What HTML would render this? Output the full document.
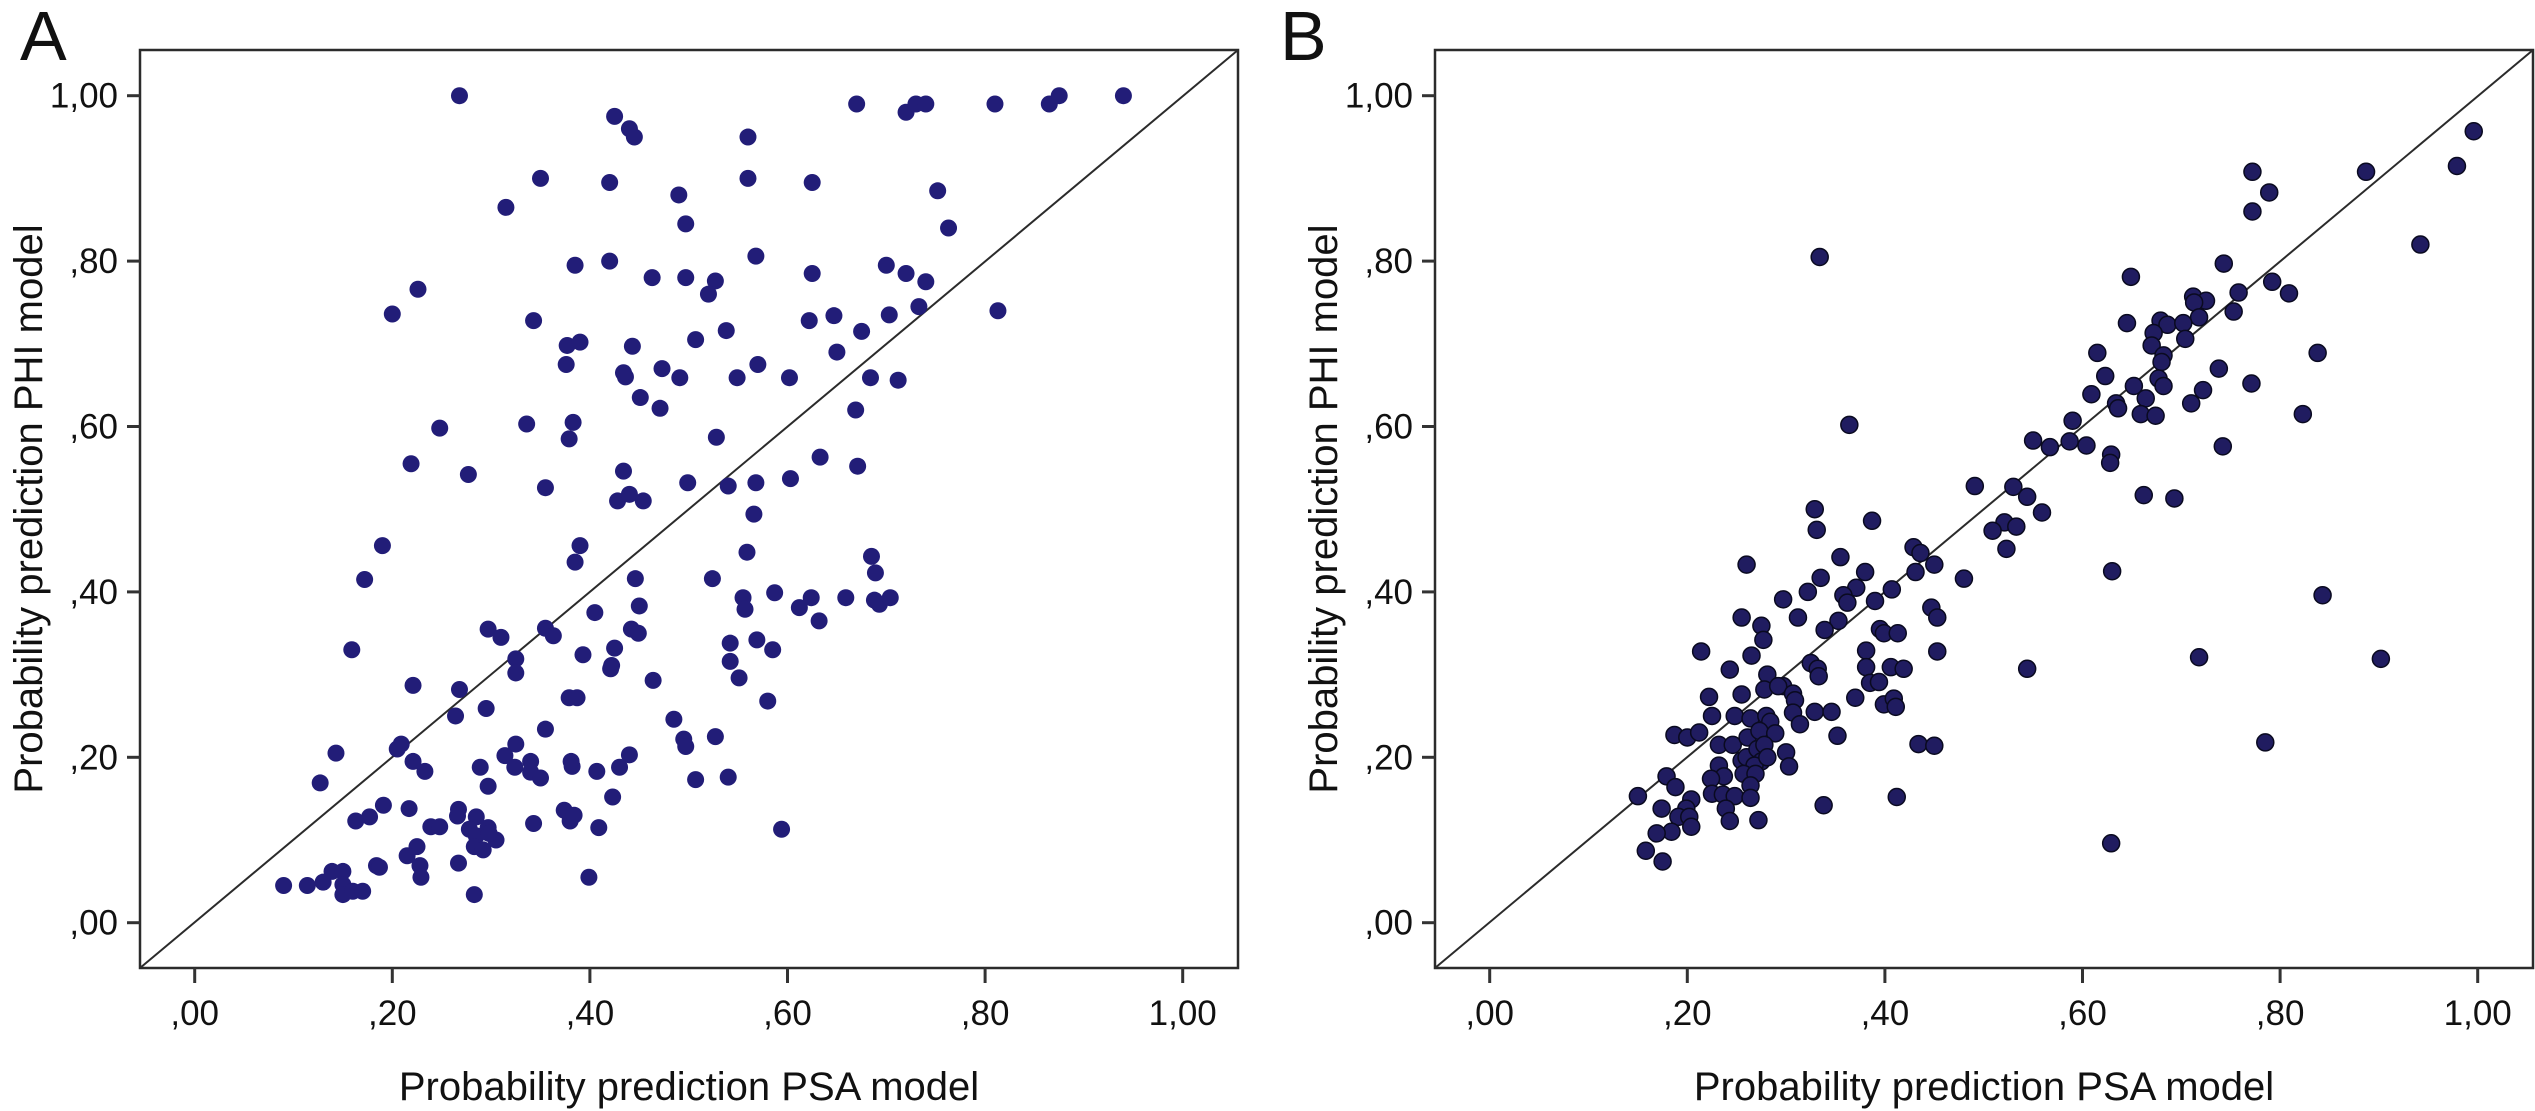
<!DOCTYPE html>
<html><head><meta charset="utf-8"><style>
html,body{margin:0;padding:0;background:#fff;}
svg{display:block;font-family:"Liberation Sans",sans-serif;}
</style></head><body>
<svg id="chart" width="2535" height="1111" viewBox="0 0 2535 1111" xmlns="http://www.w3.org/2000/svg">
<rect width="2535" height="1111" fill="#fff"/>
<text x="20" y="60" font-size="70" fill="#111">A</text>
<text x="1280" y="60" font-size="70" fill="#111">B</text>
<g id="panelA"></g>
<g id="panelB"></g>
</svg>
<script>
const tickValues = [0, 0.2, 0.4, 0.6, 0.8, 1.0];
const tickLabels = [",00", ",20", ",40", ",60", ",80", "1,00"];
const xTitle = "Probability prediction PSA model";
const yTitle = "Probability prediction PHI model";

const psaA = [.268,.67,.72,.73,.74,.81,.865,.875,.94,.425,.44,.445,.56,.35,.42,.56,.625,.315,.49,.497,.752,.763,
.385,.42,.463,.497,.527,.52,.568,.625,.70,.72,.74,.733,.813,.703,.647,.622,.675,.20,.226,.343,.377,.39,.443,.538,.507,.65,
.376,.436,.434,.473,.491,.549,.57,.602,.684,.712,.451,.471,.669,.248,.336,.383,.379,.528,.219,.277,.355,.434,.428,.44,.454,
.499,.54,.568,.603,.633,.671,.566,.19,.172,.39,.385,.446,.524,.559,.555,.557,.587,.612,.624,.632,.659,.685,.689,.688,.693,.704,
.45,.405,.159,.297,.31,.355,.363,.442,.449,.542,.542,.569,.585,.425,.393,.325,.325,.422,.421,.551,.464,.58,.268,.221,.295,.264,
.355,.379,.387,.485,.495,.497,.527,.143,.205,.209,.221,.233,.325,.314,.34,.34,.35,.324,.381,.382,.44,.43,.407,.289,.297,.507,.54,
.423,.127,.191,.177,.163,.217,.239,.248,.267,.266,.285,.278,.285,.297,.305,.283,.292,.298,.343,.374,.38,.384,.409,.594,.225,.215,
.228,.229,.184,.187,.267,.399,.09,.114,.13,.139,.15,.15,.15,.16,.17,.283];
const phiA = [1.0,.99,.98,.99,.99,.99,.99,1.0,1.0,.975,.96,.95,.95,.90,.895,.90,.895,.865,.88,.845,.885,.84,
.795,.80,.78,.78,.776,.76,.806,.785,.795,.785,.775,.745,.74,.735,.734,.728,.715,.736,.766,.728,.698,.702,.697,.716,.705,.69,
.675,.66,.665,.670,.659,.659,.675,.659,.659,.656,.635,.622,.62,.598,.603,.605,.585,.587,.555,.542,.526,.546,.51,.518,.51,
.532,.528,.532,.537,.563,.552,.494,.456,.415,.456,.436,.416,.416,.448,.393,.379,.399,.381,.393,.365,.393,.443,.423,.39,.385,.393,
.383,.375,.33,.355,.345,.356,.347,.355,.35,.338,.316,.342,.33,.332,.324,.319,.302,.311,.307,.296,.293,.268,.282,.287,.259,.25,
.234,.272,.272,.246,.222,.213,.225,.205,.21,.216,.195,.183,.216,.202,.195,.182,.175,.188,.195,.189,.203,.188,.183,.188,.165,.173,.176,
.152,.169,.142,.128,.123,.138,.116,.116,.137,.129,.128,.113,.105,.115,.10,.092,.088,.108,.12,.136,.123,.13,.115,.113,.092,.081,
.069,.055,.069,.067,.072,.055,.045,.045,.049,.062,.062,.046,.034,.038,.038,.034];

const psaB = [.996,.979,.887,.772,.789,.772,.942,.334,.743,.649,.792,.809,.758,.712,.725,.713,.753,.718,.645,.679,.686,.702,.672,.704,.670,.682,.68,
.615,.838,.738,.623,.652,.677,.682,.771,.722,.710,.609,.664,.634,.636,.659,.674,.823,.590,.55,.567,.587,.604,.629,.628,.742,.364,
.491,.53,.544,.662,.693,.559,.521,.509,.533,.523,.329,.331,.387,.630,.355,.26,.429,.436,.431,.45,.38,.335,.48,.322,.371,.358,.362,
.297,.39,.407,.447,.453,.843,.255,.312,.353,.275,.277,.339,.395,.399,.413,.381,.453,.214,.265,.718,.902,.544,.243,.325,.332,.333,
.281,.278,.297,.292,.307,.309,.381,.406,.419,.385,.394,.222,.255,.37,.399,.409,.411,.248,.225,.264,.28,.284,.307,.314,.329,.346,
.187,.2,.212,.232,.246,.261,.273,.289,.3,.303,.352,.434,.45,.785,.255,.26,.271,.278,.275,.268,.257,.269,.264,.281,.232,.237,.224,
.179,.188,.15,.225,.236,.248,.264,.338,.412,.174,.204,.199,.191,.202,.204,.184,.169,.239,.243,.272,.158,.175,.629];
const phiB = [.957,.915,.908,.908,.883,.86,.82,.805,.797,.781,.775,.761,.762,.757,.752,.75,.739,.732,.725,.728,.723,.725,.713,.706,.698,.686,.678,
.689,.689,.67,.661,.649,.658,.649,.652,.644,.628,.639,.634,.628,.622,.615,.613,.615,.607,.583,.575,.582,.577,.566,.556,.576,.602,
.528,.527,.515,.517,.513,.496,.484,.474,.479,.452,.5,.475,.486,.425,.442,.433,.454,.447,.424,.433,.424,.417,.416,.4,.405,.396,.387,
.391,.389,.403,.381,.369,.396,.369,.369,.365,.359,.342,.354,.355,.35,.35,.329,.328,.328,.323,.321,.319,.307,.306,.314,.307,.298,
.3,.282,.286,.286,.277,.269,.309,.309,.307,.29,.291,.273,.276,.272,.264,.271,.261,.25,.25,.247,.25,.243,.254,.24,.255,.255,
.227,.224,.23,.215,.215,.224,.232,.229,.206,.189,.226,.216,.214,.218,.196,.2,.21,.215,.195,.19,.18,.18,.166,.2,.19,.177,.174,
.177,.164,.153,.156,.155,.153,.151,.142,.152,.138,.149,.138,.128,.128,.116,.11,.108,.138,.123,.124,.087,.074,.096];

const NS = "http://www.w3.org/2000/svg";
function mk(parent, tag, attrs){ const e=document.createElementNS(NS,tag); for(const k in attrs) e.setAttribute(k,attrs[k]); parent.appendChild(e); return e; }

function drawPanel(g, x0, xs, ys, fill, stroke, prefix){
  const left=x0, right=x0+1098, top=50, bottom=968;
  const zx=x0+54.7, zy=922.7, ux=988, uy=827;
  const sx=v=>zx+v*ux, sy=v=>zy-v*uy;
  const box=mk(g,"rect",{x:left,y:top,width:right-left,height:bottom-top,fill:"none",stroke:"#2b2b2b","stroke-width":2.5});
  
  
  const d=mk(g,"line",{x1:left,y1:bottom,x2:right,y2:top,stroke:"#2b2b2b","stroke-width":2});
  
  
  tickValues.forEach((v,i)=>{
    const tx=mk(g,"line",{x1:sx(v),y1:bottom,x2:sx(v),y2:bottom+15,stroke:"#333","stroke-width":3});
    
    
    const lx=mk(g,"text",{x:sx(v),y:1025,"font-size":35,"text-anchor":"middle",fill:"#111"}); lx.textContent=tickLabels[i];
    
    
    const ty=mk(g,"line",{x1:left-13,y1:sy(v),x2:left,y2:sy(v),stroke:"#333","stroke-width":3});
    
    
    const ly=mk(g,"text",{x:left-22,y:sy(v)+12,"font-size":35,"text-anchor":"end",fill:"#111"}); ly.textContent=tickLabels[i];
    
    
  });
  const xt=mk(g,"text",{x:(left+right)/2,y:1100,"font-size":40,"text-anchor":"middle",fill:"#111"}); xt.textContent=xTitle;
  
  
  const yx=left-98, yc=(top+bottom)/2;
  const yt=mk(g,"text",{x:yx,y:yc,"font-size":40,"text-anchor":"middle",transform:`rotate(-90 ${yx} ${yc})`,fill:"#111"}); yt.textContent=yTitle;
  
  
  xs.forEach((v,i)=>{
    const c=mk(g,"circle",{cx:sx(v),cy:sy(ys[i]),r:8.5,fill:fill});
    if(stroke){c.setAttribute("stroke",stroke);c.setAttribute("stroke-width",1.5);}
    
    
  });
}
drawPanel(document.getElementById("panelA"),140,psaA,phiA,"#221d78",null,"panel-a");
drawPanel(document.getElementById("panelB"),1435,psaB,phiB,"#201c60","#0a0a20","panel-b");
</script>
</body></html>
